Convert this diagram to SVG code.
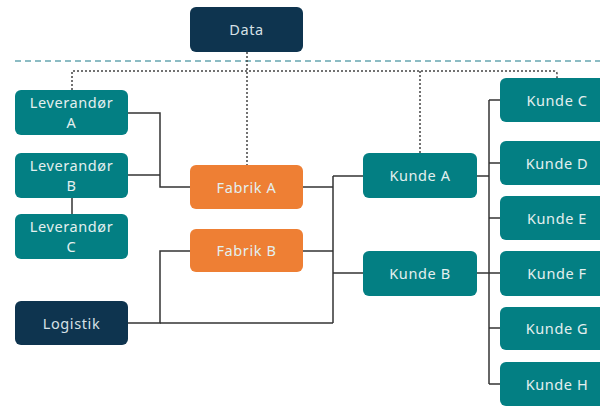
<svg xmlns="http://www.w3.org/2000/svg" width="600" height="407" viewBox="0 0 600 407">
  <style>
    .box { stroke: none; }
    .teal { fill: #037f83; }
    .navy { fill: #0e344f; }
    .orange { fill: #ee7f34; }
    .lbl { font-family: "Noto Sans", "Liberation Sans", sans-serif; font-size: 14.5px; fill: #e4efef; text-anchor: middle; letter-spacing: 0.6px; }
    .navy-lbl { fill: #d6e0e6; }
    .wire { fill: none; stroke: #333; stroke-width: 1.5; }
    .dot { fill: none; stroke: #444; stroke-width: 1.5; stroke-dasharray: 2 2; }
    .rule { fill: none; stroke: #1a7a8a; stroke-width: 1.2; stroke-dasharray: 6 4; }
  </style>

  <rect width="600" height="407" fill="#ffffff"/>

  <!-- separator line -->
  <line class="rule" x1="15" y1="61" x2="600" y2="61"/>

  <g id="connectors">
    <!-- data links (dotted) -->
    <path class="dot" d="M247 52 V165"/>
    <path class="dot" d="M72 90 V71 H554 Q557 71 557 74 V78"/>
    <path class="dot" d="M420 71 V153"/>

    <!-- suppliers to Fabrik A -->
    <path class="wire" d="M128 113 H160 V187 H190"/>
    <path class="wire" d="M128 175 H160"/>
    <path class="wire" d="M72 198 V214"/>

    <!-- logistics to Fabrik B and the customer bus -->
    <path class="wire" d="M128 323 H160 V251 H190"/>
    <path class="wire" d="M160 323 H333"/>

    <!-- factories to Kunde A / Kunde B -->
    <path class="wire" d="M303 187 H333"/>
    <path class="wire" d="M303 251 H333"/>
    <path class="wire" d="M333 176 V323"/>
    <path class="wire" d="M333 176 H363"/>
    <path class="wire" d="M333 273 H363"/>

    <!-- Kunde A / Kunde B to end customers -->
    <path class="wire" d="M477 176 H489"/>
    <path class="wire" d="M477 273 H489"/>
    <path class="wire" d="M489 100 V384"/>
    <path class="wire" d="M489 100 H500"/>
    <path class="wire" d="M489 163 H500"/>
    <path class="wire" d="M489 218 H500"/>
    <path class="wire" d="M489 273 H500"/>
    <path class="wire" d="M489 328 H500"/>
    <path class="wire" d="M489 384 H500"/>
  </g>

  <g id="data">
    <rect class="box navy" x="190" y="7" width="113" height="45" rx="6"/>
    <text class="lbl navy-lbl" x="246.5" y="35">Data</text>
  </g>

  <g id="leverandor-a">
    <rect class="box teal" x="15" y="90" width="113" height="45" rx="6"/>
    <text class="lbl" x="71.5" y="108">Leverandør</text>
    <text class="lbl" x="71.5" y="128">A</text>
  </g>
  <g id="leverandor-b">
    <rect class="box teal" x="15" y="153" width="113" height="45" rx="6"/>
    <text class="lbl" x="71.5" y="171">Leverandør</text>
    <text class="lbl" x="71.5" y="191">B</text>
  </g>
  <g id="leverandor-c">
    <rect class="box teal" x="15" y="214" width="113" height="45" rx="6"/>
    <text class="lbl" x="71.5" y="232">Leverandør</text>
    <text class="lbl" x="71.5" y="252">C</text>
  </g>
  <g id="logistik">
    <rect class="box navy" x="15" y="301" width="113" height="44" rx="6"/>
    <text class="lbl navy-lbl" x="71.5" y="328.5">Logistik</text>
  </g>

  <g id="fabrik-a">
    <rect class="box orange" x="190" y="165" width="113" height="44" rx="6"/>
    <text class="lbl" x="246.5" y="192.5">Fabrik A</text>
  </g>
  <g id="fabrik-b">
    <rect class="box orange" x="190" y="229" width="113" height="43" rx="6"/>
    <text class="lbl" x="246.5" y="256">Fabrik B</text>
  </g>

  <g id="kunde-a">
    <rect class="box teal" x="363" y="153" width="114" height="45" rx="6"/>
    <text class="lbl" x="420" y="181">Kunde A</text>
  </g>
  <g id="kunde-b">
    <rect class="box teal" x="363" y="251" width="114" height="45" rx="6"/>
    <text class="lbl" x="420" y="279">Kunde B</text>
  </g>

  <g id="kunde-c">
    <rect class="box teal" x="500" y="78" width="114" height="44" rx="6"/>
    <text class="lbl" x="557" y="105.5">Kunde C</text>
  </g>
  <g id="kunde-d">
    <rect class="box teal" x="500" y="141" width="114" height="44" rx="6"/>
    <text class="lbl" x="557" y="168.5">Kunde D</text>
  </g>
  <g id="kunde-e">
    <rect class="box teal" x="500" y="196" width="114" height="44" rx="6"/>
    <text class="lbl" x="557" y="223.5">Kunde E</text>
  </g>
  <g id="kunde-f">
    <rect class="box teal" x="500" y="251" width="114" height="45" rx="6"/>
    <text class="lbl" x="557" y="279">Kunde F</text>
  </g>
  <g id="kunde-g">
    <rect class="box teal" x="500" y="307" width="114" height="43" rx="6"/>
    <text class="lbl" x="557" y="334">Kunde G</text>
  </g>
  <g id="kunde-h">
    <rect class="box teal" x="500" y="362" width="114" height="44" rx="6"/>
    <text class="lbl" x="557" y="389.5">Kunde H</text>
  </g>
</svg>
